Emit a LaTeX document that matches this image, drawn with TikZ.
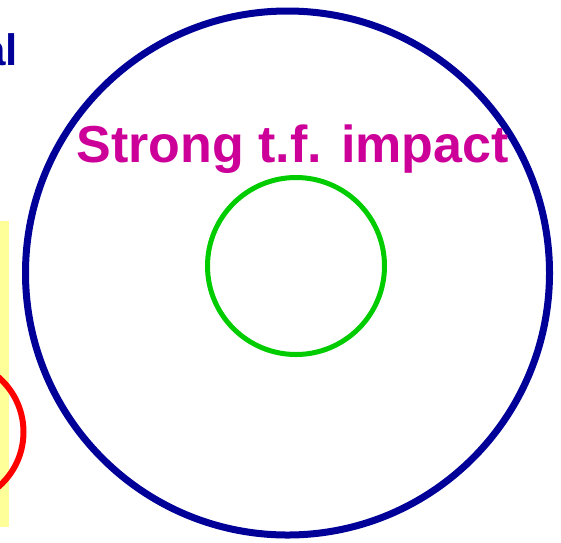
\documentclass[tikz,border=0pt]{standalone}
\usepackage{fontspec}
\setmainfont{Liberation Sans}
\usepackage{xcolor}
\usetikzlibrary{positioning}
\definecolor{ringblue}{HTML}{000099}
\definecolor{ringgreen}{HTML}{00CC00}
\definecolor{ringred}{HTML}{FF0000}
\definecolor{paleyellow}{HTML}{FFFF99}
\definecolor{impactpink}{HTML}{CC0099}

\begin{document}
\begin{tikzpicture}[x=1pt, y=1pt,
    ring/.style={circle, draw, inner sep=0pt},
    title/.style={font=\fontsize{52}{60}\selectfont\bfseries, text=impactpink, inner sep=0pt}
  ]
  \useasboundingbox (0,0) rectangle (561,-542);

  % Left: strip and partial ring
  \fill[paleyellow] (0,-221) rectangle (9,-527);
  \node[ring, draw=ringred, line width=6pt, minimum size=145pt] (redring) at (-49,-432) {};
  \node[anchor=base east, inner sep=0pt, text=ringblue,
        font=\fontsize{44}{50}\selectfont\bfseries] (cut) at (18,-65) {al};

  % Main rings
  \node[ring, draw=ringblue, line width=7pt, minimum size=524pt] (outer) at (287.5,-273) {};
  \node[ring, draw=ringgreen, line width=5pt, minimum size=177pt] (inner) at (296,-266) {};

  % Label
  \node[title, anchor=base] (impact) at (292.5,-162) {Strong t.f. impact};
\end{tikzpicture}
\end{document}
